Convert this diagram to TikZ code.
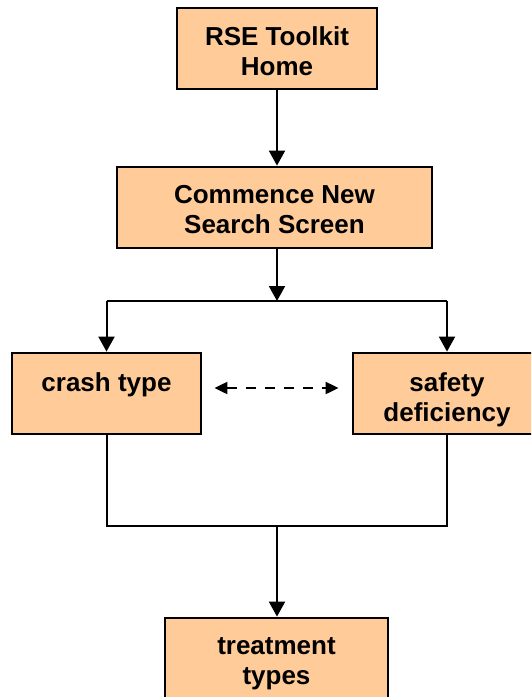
\documentclass[tikz,border=0pt]{standalone}
\usepackage{fontspec}
\setmainfont{Liberation Sans}
\usetikzlibrary{arrows.meta}
\definecolor{peach}{HTML}{FFCC99}
% box text: height, width, first baseline offset, text
\newcommand\toptext[4]{\parbox[c][#1][t]{#2}{\centering\fontsize{26}{30}\selectfont\bfseries\rule{0pt}{#3}#4}}
\tikzset{
  stagebox/.style={draw=black, line width=2.8pt, fill=peach, inner sep=0pt},
  link/.style={line width=2pt, draw=black},
  flow/.style={link, -{Triangle[length=15pt,width=16pt]}},
  twoway/.style={link, dash pattern=on 10pt off 9pt,
    {Triangle[length=13pt,width=12pt]}-{Triangle[length=13pt,width=12pt]}}
}
\begin{document}
\begin{tikzpicture}[x=1pt, y=-1pt]
  \useasboundingbox (0,0) rectangle (531,697);
  \clip (0,0) rectangle (531,697);
  \fill[white] (0,0) rectangle (531,697);

  \node[stagebox] (home) at (277,48.5) {\toptext{81pt}{200pt}{37pt}{RSE Toolkit\\Home}};
  \node[stagebox] (search) at (274.5,207.5) {\toptext{81pt}{315pt}{36pt}{Commence New\\Search Screen}};
  \node[stagebox] (crash) at (106.5,393.5) {\toptext{81pt}{189pt}{38pt}{crash type}};
  \node[stagebox] (safety) at (447,393.5) {\toptext{81pt}{188pt}{38pt}{safety\\deficiency}};
  \node[stagebox] (treat) at (276.5,658.5) {\toptext{81pt}{223pt}{36pt}{treatment\\types}};

  \coordinate (split) at (277,301);
  \coordinate (merge) at (277,526);

  % top of the flow
  \draw[flow] (home.south) -- (home.south |- search.north);
  \draw[flow] (search.south -| split) -- (split);

  % branch to the two search options
  \draw[link] (crash.north |- split) -- (safety.north |- split);
  \draw[flow] (crash.north |- split) -- (crash.north);
  \draw[flow] (safety.north |- split) -- (safety.north);

  % link between the two options
  \draw[twoway] ([xshift=12pt,yshift=5.5pt]crash.east) -- ([xshift=-13pt,yshift=5.5pt]safety.west);

  % merge into treatment types
  \draw[link] (crash.south) -- (crash.south |- merge) -- (safety.south |- merge) -- (safety.south);
  \draw[flow] (merge) -- (merge |- treat.north);
\end{tikzpicture}
\end{document}
